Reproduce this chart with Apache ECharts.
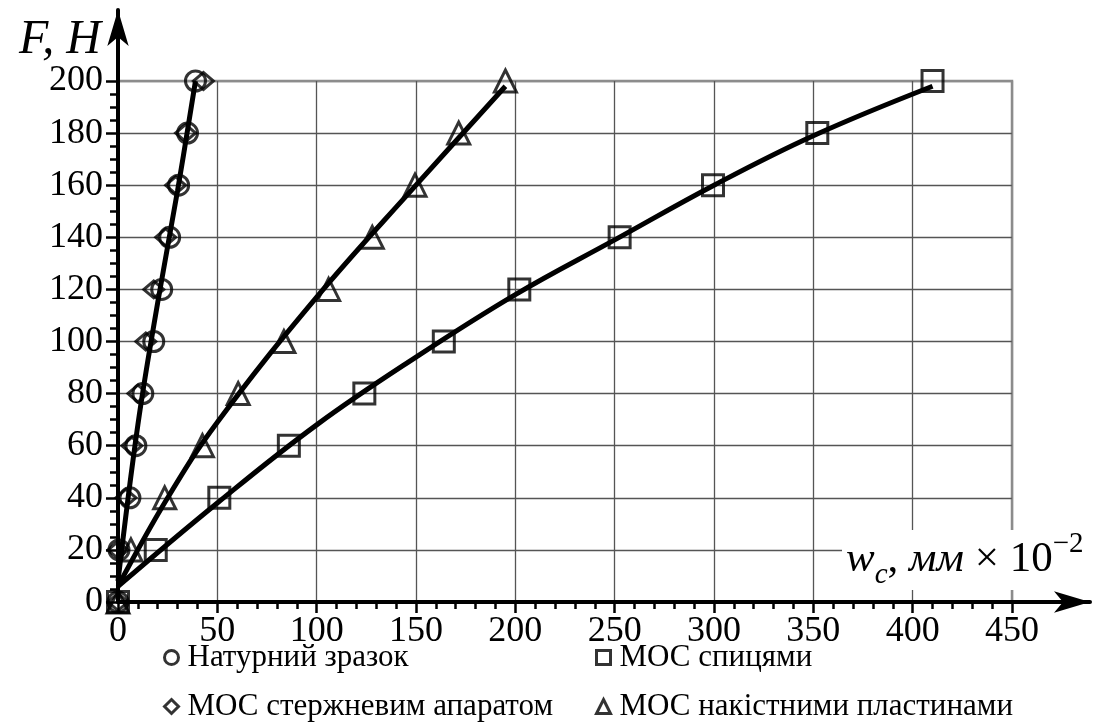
<!DOCTYPE html>
<html>
<head>
<meta charset="utf-8">
<script src="https://cdn.jsdelivr.net/npm/echarts@6/dist/echarts.min.js"></script>
<style>
  html, body { margin: 0; padding: 0; background: #fff; }
  #main { width: 1096px; height: 725px; }
</style>
</head>
<body>
<div id="main"></div>
<script>
// load levels, N
const loads = [0, 20, 40, 60, 80, 100, 120, 140, 160, 180, 200];

// deflection w_c (mm x 10^-2) read for each load
const naturalX = [0, 0.5, 6, 9, 12.5, 18, 22, 26, 30.5, 35, 39];
const rodX = [0, 0, 4, 7, 10, 14, 18, 24, 29, 34, 43];
const pinsX = [0, 19, 51, 86, 124, 164, 202, 252.5, 299.5, 352, 410];
const platesX = [0, 6.5, 23.5, 42.5, 60.5, 83.5, 106, 128, 149.5, 171.5, 195];

// fitted curves
const naturalFitX = [0, 10, 20, 30, 39];
const naturalFitY = [8, 68, 115, 158, 200];
const platesFitX = [0, 25, 50, 100, 150, 195];
const platesFitY = [6, 40, 69, 117, 160, 198];
const pinsFitX = [0, 50, 100, 150, 200, 250, 300, 350, 410];
const pinsFitY = [6, 38, 68, 94, 118, 139, 160, 179, 198];

const names = [
  "Натурний зразок",
  "МОС стержневим апаратом",
  "МОС спицями",
  "МОС накістними пластинами",
];

const pair = (xs, ys) => xs.map((x, i) => [x, ys[i]]);
const serif = "Liberation Serif";

var chart = echarts.init(document.getElementById("main"));

const markerStyle = {
  color: "rgba(0,0,0,0)",
  borderColor: "#000",
  borderWidth: 3,
};

function markers(name, xs, symbol, size) {
  return {
    name: name,
    type: "scatter",
    xAxisIndex: 0,
    yAxisIndex: 0,
    data: pair(xs, loads),
    symbol: symbol,
    symbolSize: size,
    itemStyle: markerStyle,
    z: 3,
  };
}

function fit(name, xs, ys) {
  return {
    name: name,
    type: "line",
    xAxisIndex: 0,
    yAxisIndex: 0,
    data: pair(xs, ys),
    smooth: 0.4,
    showSymbol: false,
    clip: false,
    lineStyle: { color: "#000", width: 5 },
    z: 4,
  };
}

const gridColorsX = ["#555", "#555", "#555", "#555", "#555", "#555", "#555", "#555", "#555", "#8c8c8c"];
const gridColorsY = ["#555", "#555", "#555", "#555", "#555", "#555", "#555", "#555", "#555", "#555", "#8c8c8c"];

const legendIcon = { color: "rgba(0,0,0,0)", borderColor: "#000", borderWidth: 3 };

const richBase = { fontFamily: serif, fontWeight: "normal", color: "#000", lineHeight: 60 };

function legendBlock(items, left) {
  return {
    data: items,
    orient: "vertical",
    left: left,
    top: 637,
    height: 120,
    itemGap: 18,
    itemWidth: 14,
    itemHeight: 14,
    itemStyle: legendIcon,
    formatter: "{t|{name}}",
    textStyle: {
      fontFamily: serif,
      fontSize: 31,
      color: "#000",
      rich: {
        t: { fontFamily: serif, fontSize: 31, color: "#000", padding: [0, 0, 0, 4] },
      },
    },
  };
}

const option = {
  backgroundColor: "#fff",
  animation: false,
  textStyle: { fontFamily: serif, color: "#000" },
  title: [
    {
      text: "F, H",
      left: 14,
      top: 11,
      textStyle: { fontFamily: serif, fontStyle: "italic", fontWeight: "normal", fontSize: 48, color: "#000" },
    },
    {
      text: "{i|w}{sub|c}{n|, }{i|мм}{n| × 10}{sup|−2}",
      left: 842,
      top: 530,
      padding: [0, 4, 0, 4],
      backgroundColor: "#fff",
      textStyle: {
        fontWeight: "normal",
        rich: {
          i: Object.assign({}, richBase, { fontStyle: "italic", fontSize: 43, verticalAlign: "middle" }),
          n: Object.assign({}, richBase, { fontSize: 43, verticalAlign: "middle" }),
          sub: Object.assign({}, richBase, { fontStyle: "italic", fontSize: 29, verticalAlign: "bottom" }),
          sup: Object.assign({}, richBase, { fontSize: 29, verticalAlign: "top" }),
        },
      },
    },
  ],
  legend: [legendBlock([names[0], names[1]], 158), legendBlock([names[2], names[3]], 590)],
  grid: [
    {
      left: 118,
      width: 894,
      bottom: 123,
      height: 521,
      show: true,
      borderColor: "#8c8c8c",
      borderWidth: 2.5,
      backgroundColor: "rgba(0,0,0,0)",
    },
    { left: 118, right: 6, top: 10, bottom: 123 },
  ],
  xAxis: [
    {
      type: "value",
      gridIndex: 0,
      min: 0,
      max: 450,
      interval: 50,
      axisLine: { show: false },
      axisTick: { show: true, length: 11, lineStyle: { color: "#000", width: 2.5 } },
      minorTick: { show: true, splitNumber: 5, length: 7, lineStyle: { color: "#000", width: 2.5 } },
      axisLabel: { fontFamily: serif, fontSize: 36, color: "#000", margin: 12 },
      splitLine: { show: true, lineStyle: { color: gridColorsX, width: 1.3 } },
    },
    {
      type: "value",
      gridIndex: 1,
      min: 0,
      max: 1,
      axisLine: { show: true, symbol: ["none", "arrow"], symbolSize: [16, 36], lineStyle: { color: "#000", width: 4 } },
      axisTick: { show: false },
      axisLabel: { show: false },
      splitLine: { show: false },
    },
  ],
  yAxis: [
    {
      type: "value",
      gridIndex: 0,
      min: 0,
      max: 200,
      interval: 20,
      axisLine: { show: false },
      axisTick: { show: true, length: 12, lineStyle: { color: "#000", width: 2.5 } },
      minorTick: { show: true, splitNumber: 4, length: 8, lineStyle: { color: "#000", width: 2.5 } },
      axisLabel: { fontFamily: serif, fontSize: 36, color: "#000", margin: 15 },
      splitLine: { show: true, lineStyle: { color: gridColorsY, width: 1.3 } },
    },
    {
      type: "value",
      gridIndex: 1,
      min: 0,
      max: 1,
      axisLine: { show: true, symbol: ["none", "arrow"], symbolSize: [16, 36], lineStyle: { color: "#000", width: 4 } },
      axisTick: { show: false },
      axisLabel: { show: false },
      splitLine: { show: false },
    },
  ],
  series: [
    markers(names[0], naturalX, "circle", 20),
    markers(names[1], rodX, "diamond", [20, 17]),
    markers(names[2], pinsX, "rect", 21),
    markers(names[3], platesX, "triangle", 22),
    fit("fit-natural", naturalFitX, naturalFitY),
    fit("fit-plates", platesFitX, platesFitY),
    fit("fit-pins", pinsFitX, pinsFitY),
  ],
};

chart.setOption(option);
</script>
</body>
</html>
